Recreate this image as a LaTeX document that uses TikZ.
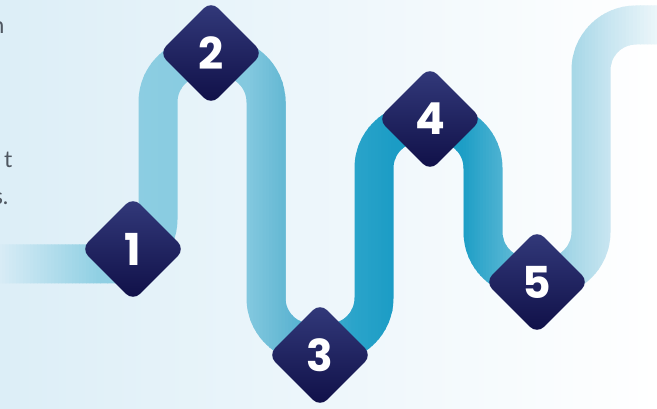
\documentclass[tikz,border=0pt]{standalone}
\usepackage{fontspec}
\usetikzlibrary{shapes.geometric}
\newfontfamily\numfont{Poppins}
\newfontfamily\txtfont{Lato}
\definecolor{bgL}{HTML}{DCEEF7}
\definecolor{bgM}{HTML}{EDF6FB}
\definecolor{navyT}{HTML}{333A7B}
\definecolor{navyB}{HTML}{0F0F47}
\definecolor{txtgray}{HTML}{4F5761}
\definecolor{s0}{HTML}{DCEEF7}
\definecolor{s1}{HTML}{8FCFE3}
\definecolor{s2}{HTML}{84C9DF}
\definecolor{s3}{HTML}{64B8D4}
\definecolor{s4}{HTML}{2AA4CA}
\definecolor{s5}{HTML}{1B9CC5}
\definecolor{s6}{HTML}{1D9EC6}
\definecolor{s7}{HTML}{4FB3D2}
\definecolor{s8}{HTML}{A6D7E7}
\definecolor{s9}{HTML}{C9E6F1}
\definecolor{s10}{HTML}{EFF8FB}
\newcommand\bandstroke[1]{\draw[line width=39pt, rounded corners=45pt, #1]
  (-5,264) -- (158,264) -- (158,57) -- (266,57) -- (266,343) -- (374,343)
  -- (374,123) -- (483,123) -- (483,277) -- (591,277) -- (591,25) -- (700,25);}
\newcommand\bandseg[5]{%
  \foreach \j in {1,...,#5}{%
    \pgfmathsetmacro\xa{#1+(#2-#1)*(\j-1)/#5}%
    \pgfmathsetmacro\xb{#1+(#2-#1)*\j/#5+0.7}%
    \pgfmathsetmacro\pc{100*(\j-0.5)/#5}%
    \begin{scope}
      \clip (\xa,-10) rectangle (\xb,420);
      \bandstroke{draw=#4!\pc!#3}
    \end{scope}
  }%
}
\tikzset{
  stepdia/.style={shape=diamond, aspect=1, minimum width=104pt, minimum height=104pt,
    inner sep=0pt, rounded corners=10pt, top color=navyT, bottom color=navyB,
    text=white, font=\numfont\bfseries\fontsize{44}{44}\selectfont},
  frag/.style={anchor=base east, inner sep=0pt, text=txtgray,
    font=\txtfont\fontsize{23}{28}\selectfont}
}
\begin{document}
\begin{tikzpicture}[x=1pt,y=-1pt]
\useasboundingbox (0,0) rectangle (657,409);
\clip (0,0) rectangle (657,409);
\shade[left color=bgL, middle color=bgM, right color=white] (0,0) rectangle (657,409);
\bandseg{-5}{100}{s0}{s1}{30}
\bandseg{100}{247}{s1}{s2}{20}
\bandseg{247}{285}{s2}{s3}{12}
\bandseg{285}{355}{s3}{s4}{20}
\bandseg{355}{395}{s4}{s5}{12}
\bandseg{395}{463}{s5}{s6}{10}
\bandseg{463}{503}{s6}{s7}{14}
\bandseg{503}{572}{s7}{s8}{22}
\bandseg{572}{611}{s8}{s9}{12}
\bandseg{611}{662}{s9}{s10}{14}
\node[stepdia] (d1) at (133,249) {1};
\node[stepdia] (d2) at (211,53) {2};
\node[stepdia] (d3) at (320,355) {3};
\node[stepdia] (d4) at (430,119) {4};
\node[stepdia] (d5) at (537,282) {5};
\node[frag] (fn) at (4.6,33.5) {n};
\node[frag] (ft) at (12.6,168) {t};
\node[frag] (fs) at (8.6,205) {s.};
\end{tikzpicture}
\end{document}
